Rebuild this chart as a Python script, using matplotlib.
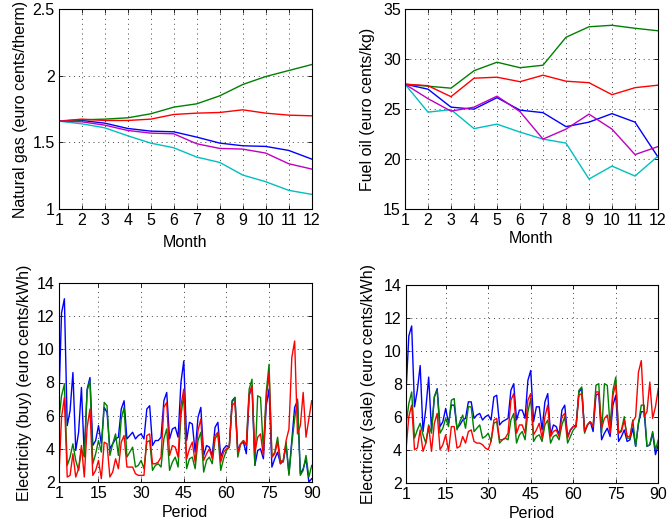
import numpy as np
import matplotlib
matplotlib.use("Agg")
import matplotlib.pyplot as plt

plt.rcParams['font.family'] = ['Liberation Sans', 'DejaVu Sans']

months = list(range(1, 13))
periods = list(range(1, 91))

# Natural gas (euro cents/therm)
gas_blue = [1.66, 1.665, 1.645, 1.605, 1.585, 1.58, 1.54, 1.495, 1.475, 1.47, 1.44, 1.375]
gas_green = [1.66, 1.67, 1.675, 1.685, 1.715, 1.765, 1.79, 1.85, 1.935, 1.995, 2.04, 2.085]
gas_red = [1.66, 1.675, 1.665, 1.665, 1.675, 1.71, 1.72, 1.725, 1.745, 1.72, 1.705, 1.70]
gas_cyan = [1.66, 1.64, 1.61, 1.55, 1.495, 1.46, 1.39, 1.35, 1.255, 1.205, 1.14, 1.11]
gas_magenta = [1.66, 1.655, 1.63, 1.59, 1.57, 1.565, 1.49, 1.455, 1.45, 1.42, 1.34, 1.30]

# Fuel oil (euro cents/kg)
oil_blue = [27.5, 27.0, 25.2, 25.0, 26.15, 24.9, 24.65, 23.25, 23.7, 24.55, 23.7, 20.2]
oil_green = [27.5, 27.3, 27.1, 28.85, 29.7, 29.15, 29.4, 32.2, 33.25, 33.4, 33.1, 32.85]
oil_red = [27.5, 27.35, 26.25, 28.1, 28.2, 27.75, 28.4, 27.8, 27.65, 26.45, 27.15, 27.4]
oil_cyan = [27.5, 24.7, 24.95, 23.05, 23.5, 22.7, 22.0, 21.6, 18.0, 19.3, 18.3, 20.3]
oil_magenta = [27.5, 26.05, 24.8, 25.2, 26.3, 24.75, 22.0, 23.0, 24.5, 23.0, 20.45, 21.25]

# Electricity (buy)
buy_blue = [6.5, 12.2, 13.05, 5.4, 6.3, 8.6, 3.9, 5.0, 7.7, 3.6, 7.6, 8.3, 4.2, 4.5, 5.4,
            4.3, 6.5, 6.2, 4.0, 4.3, 4.6, 4.7, 6.4, 6.9, 4.6, 4.8, 5.0, 4.6, 4.8, 4.9,
            4.6, 6.4, 6.6, 4.2, 4.5, 4.5, 4.7, 6.9, 7.4, 4.6, 5.2, 5.3, 4.7, 8.0, 9.3,
            4.5, 5.6, 5.5, 3.8, 5.9, 6.5, 3.6, 4.2, 4.1, 3.6, 5.3, 5.6, 3.5, 4.0, 4.2,
            4.1, 6.9, 7.1, 3.9, 4.3, 4.4, 3.7, 7.2, 7.8, 3.0, 3.9, 4.0, 3.4, 6.6, 7.6,
            2.9, 3.4, 3.8, 3.1, 3.3, 4.2, 2.5, 4.5, 6.5, 6.9, 2.5, 2.8, 3.4, 2.0, 2.2]
buy_green = [5.6, 7.2, 7.9, 3.0, 3.5, 4.3, 3.3, 2.7, 4.0, 3.5, 7.5, 8.1, 3.1, 3.7, 4.5,
             3.8, 6.8, 6.6, 3.6, 4.3, 4.9, 3.6, 5.8, 6.5, 3.5, 3.8, 4.1, 2.9, 3.0, 3.3,
             2.8, 4.4, 4.5, 2.7, 3.0, 3.1, 2.9, 4.6, 5.2, 2.7, 3.2, 3.5, 2.9, 6.0, 7.3,
             2.8, 3.4, 3.5, 2.8, 4.5, 5.0, 2.6, 3.3, 3.5, 3.1, 4.6, 4.9, 2.7, 3.4, 3.9,
             4.1, 6.8, 7.1, 3.5, 4.3, 4.5, 4.2, 7.6, 8.2, 3.0, 7.2, 7.1, 3.9, 7.4, 9.1,
             3.5, 3.8, 4.7, 3.3, 3.2, 4.4, 2.4, 4.3, 5.8, 7.0, 2.4, 2.7, 3.6, 2.3, 3.0]
buy_red = [2.1, 5.9, 7.1, 2.3, 2.4, 3.7, 2.3, 2.8, 4.2, 2.3, 5.3, 6.4, 2.4, 2.7, 3.3,
           2.2, 4.4, 4.3, 2.3, 2.6, 3.4, 2.8, 4.4, 4.8, 2.9, 2.9, 2.9, 2.5, 2.4, 2.4,
           2.4, 4.8, 4.9, 3.1, 3.1, 3.2, 3.5, 6.5, 6.8, 3.6, 4.2, 4.1, 3.5, 6.6, 7.6,
           3.4, 4.0, 4.4, 3.2, 5.1, 5.8, 3.3, 3.7, 4.0, 3.4, 4.8, 5.0, 3.2, 3.8, 4.0,
           4.1, 6.6, 6.8, 3.8, 4.3, 4.5, 4.2, 7.3, 7.8, 3.8, 4.7, 4.9, 3.6, 7.0, 8.6,
           3.5, 3.7, 4.4, 3.1, 3.3, 4.5, 5.2, 9.5, 10.5, 4.9, 5.4, 7.4, 4.7, 5.8, 6.9]

# Electricity (sale)
sale_blue = [7.5, 10.9, 11.5, 6.6, 7.6, 9.1, 5.1, 6.5, 8.4, 5.2, 7.2, 7.7, 5.4, 5.7, 6.5,
             5.6, 6.7, 6.7, 5.3, 5.5, 5.8, 5.9, 6.9, 6.9, 5.9, 6.1, 6.2, 5.8, 6.0, 6.1,
             5.8, 7.2, 7.3, 5.5, 5.7, 5.8, 5.9, 7.6, 8.0, 5.8, 6.4, 6.4, 5.9, 8.2, 8.8,
             5.7, 6.6, 6.6, 5.2, 6.9, 7.4, 4.9, 5.5, 5.4, 4.9, 6.4, 6.7, 4.8, 5.2, 5.4,
             5.5, 7.5, 7.7, 5.1, 5.5, 5.7, 5.1, 7.3, 7.4, 4.6, 5.0, 5.3, 4.8, 6.7, 7.3,
             4.5, 4.8, 5.2, 4.5, 4.6, 5.3, 4.2, 5.6, 6.3, 6.3, 4.2, 4.3, 5.0, 3.7, 4.3]
sale_green = [5.5, 6.8, 7.5, 4.7, 5.2, 5.6, 4.9, 4.4, 5.5, 5.0, 7.2, 7.6, 5.0, 5.3, 5.9,
              5.4, 7.0, 7.1, 5.2, 5.7, 6.1, 5.3, 6.6, 6.6, 5.1, 5.3, 5.5, 4.7, 4.8, 5.0,
              4.5, 5.6, 5.7, 4.4, 4.6, 4.7, 4.6, 5.8, 6.2, 4.4, 4.9, 5.1, 4.6, 6.3, 7.1,
              4.5, 4.8, 4.9, 4.5, 5.5, 5.8, 4.4, 4.8, 4.9, 4.6, 5.5, 6.0, 4.4, 4.8, 5.2,
              5.4, 7.6, 7.8, 5.0, 5.5, 5.7, 5.4, 7.9, 8.0, 5.0, 8.0, 7.9, 5.4, 7.6, 8.4,
              5.0, 5.2, 6.0, 4.7, 4.7, 5.8, 4.2, 5.6, 6.7, 6.7, 4.2, 4.3, 5.1, 4.0, 4.6]
sale_red = [4.0, 6.0, 6.7, 4.0, 4.1, 5.2, 3.9, 4.4, 5.4, 3.9, 5.6, 6.2, 4.0, 4.3, 4.9,
            3.9, 5.4, 5.4, 4.1, 4.2, 4.8, 4.4, 5.1, 5.2, 4.5, 4.4, 4.4, 4.3, 4.1, 4.0,
            4.5, 5.8, 5.9, 4.6, 4.6, 4.7, 5.0, 7.0, 7.4, 5.0, 5.5, 5.5, 5.0, 7.0, 7.4,
            4.9, 5.2, 5.6, 4.7, 6.0, 6.7, 4.8, 5.1, 5.2, 4.8, 6.0, 6.2, 4.7, 5.2, 5.4,
            5.4, 7.3, 7.4, 5.1, 5.5, 5.7, 5.4, 7.5, 7.5, 5.3, 5.9, 6.1, 5.0, 7.3, 8.0,
            5.0, 5.1, 5.8, 4.8, 4.8, 5.7, 6.0, 8.7, 9.4, 6.0, 6.3, 8.1, 5.9, 6.6, 7.7]

C_B = (0, 0, 1)
C_G = (0, 0.5, 0)
C_R = (1, 0, 0)
C_C = (0, 0.75, 0.75)
C_M = (0.75, 0, 0.75)

fig = plt.figure(figsize=(6.68, 5.25), dpi=100)
W, H = 668.0, 525.0

def add_ax(x0, x1, ytop, ybot):
    return fig.add_axes([x0 / W, 1 - ybot / H, (x1 - x0) / W, (ybot - ytop) / H])

ax1 = add_ax(58.7, 311.7, 9.3, 209.0)
ax2 = add_ax(405.0, 658.0, 9.3, 209.0)
ax3 = add_ax(58.7, 311.7, 283.0, 482.0)
ax4 = add_ax(406.0, 658.3, 284.7, 482.7)

TFS = 11.5
LFS = 11.5
lw = 1.0

def style(ax):
    ax.tick_params(direction='in', top=True, right=True, labelsize=TFS, length=3, width=0.6, pad=3)
    ax.grid(True, linestyle=(0, (1, 4)), color='black', linewidth=0.7, alpha=0.75)
    for s in ax.spines.values():
        s.set_linewidth(0.8)

for ys, c in [(gas_blue, C_B), (gas_green, C_G), (gas_red, C_R), (gas_cyan, C_C), (gas_magenta, C_M)]:
    ax1.plot(months, ys, color=c, lw=lw)
ax1.set_xlim(1, 12)
ax1.set_ylim(1, 2.5)
ax1.set_xticks(months)
ax1.set_yticks([1, 1.5, 2, 2.5])
ax1.set_yticklabels(['1', '1.5', '2', '2.5'])
ax1.set_xlabel('Month', fontsize=LFS, labelpad=5)
ax1.set_ylabel('Natural gas (euro cents/therm)', fontsize=LFS, labelpad=3)
style(ax1)

for ys, c in [(oil_blue, C_B), (oil_green, C_G), (oil_red, C_R), (oil_cyan, C_C), (oil_magenta, C_M)]:
    ax2.plot(months, ys, color=c, lw=lw)
ax2.set_xlim(1, 12)
ax2.set_ylim(15, 35)
ax2.set_xticks(months)
ax2.set_yticks([15, 20, 25, 30, 35])
ax2.set_xlabel('Month', fontsize=LFS, labelpad=2)
ax2.set_ylabel('Fuel oil (euro cents/kg)', fontsize=LFS, labelpad=6)
style(ax2)

for ys, c in [(buy_blue, C_B), (buy_green, C_G), (buy_red, C_R)]:
    ax3.plot(periods, ys, color=c, lw=lw)
ax3.set_xlim(1, 90)
ax3.set_ylim(2, 14)
ax3.set_xticks([1, 15, 30, 45, 60, 75, 90])
ax3.set_yticks([2, 4, 6, 8, 10, 12, 14])
ax3.set_xlabel('Period', fontsize=LFS, labelpad=3)
ax3.set_ylabel('Electricity (buy) (euro cents/kWh)', fontsize=LFS, labelpad=3)
style(ax3)

for ys, c in [(sale_blue, C_B), (sale_green, C_G), (sale_red, C_R)]:
    ax4.plot(periods, ys, color=c, lw=lw)
ax4.set_xlim(1, 90)
ax4.set_ylim(2, 14)
ax4.set_xticks([1, 15, 30, 45, 60, 75, 90])
ax4.set_yticks([2, 4, 6, 8, 10, 12, 14])
ax4.set_xlabel('Period', fontsize=LFS, labelpad=3)
ax4.set_ylabel('Electricity (sale) (euro cents/kWh)', fontsize=LFS, labelpad=6)
style(ax4)

fig.savefig('out.png', dpi=100)
